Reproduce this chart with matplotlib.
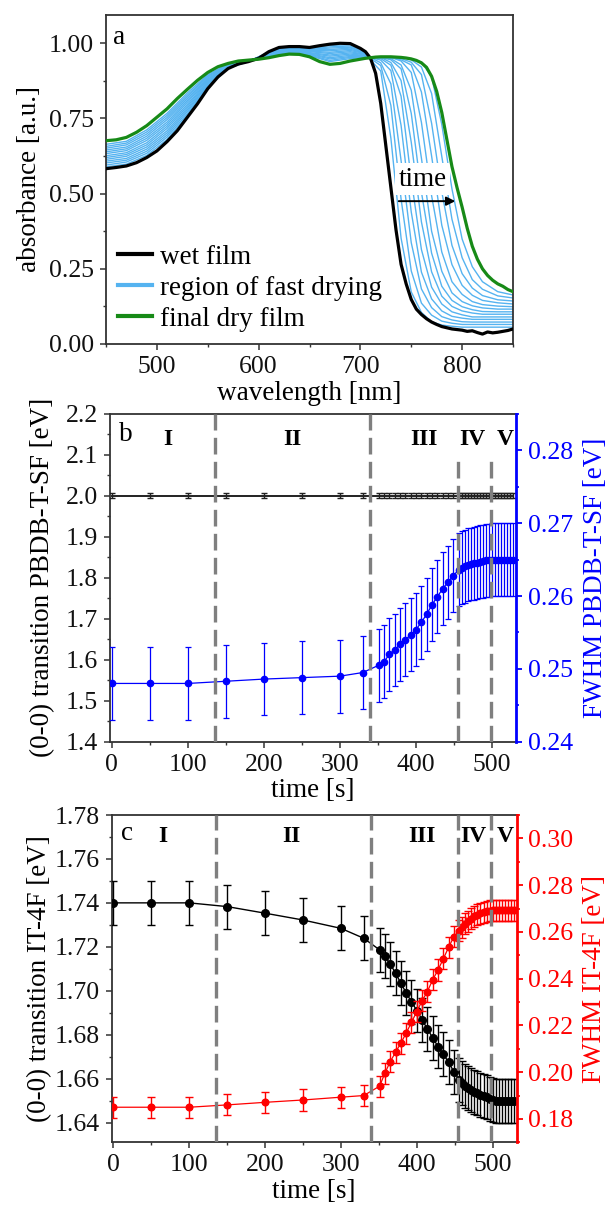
import matplotlib
matplotlib.use("Agg")
import matplotlib.pyplot as plt
from matplotlib.lines import Line2D
from matplotlib.ticker import MultipleLocator
from matplotlib.transforms import blended_transform_factory

plt.rcParams['font.family'] = ['Liberation Serif', 'DejaVu Serif']

# ---------------- (a) absorbance spectra during drying ----------------
wavelength = [450, 460, 470, 480, 490, 500, 510, 520, 530, 540, 550, 560, 570,
              580, 590, 600, 610, 620, 630, 640, 650, 660, 670, 680, 690, 700,
              705, 710, 715, 720, 725, 730, 735, 740, 745, 750, 755, 760, 765,
              770, 775, 780, 785, 790, 795, 800, 805, 810, 815, 820, 825, 830,
              835, 840, 845, 850]
abs_wet = [.583, .587, .592, .603, .620, .642, .673, .709, .754, .799, .849, .888,
           .916, .931, .939, .950, .972, .986, .989, .989, .986, .992, .997, 1.000,
           .999, .983, .972, .950, .900, .800, .660, .520, .380, .265, .200, .148,
           .116, .098, .084, .073, .065, .058, .054, .050, .048, .046, .042, .044,
           .038, .033, .040, .037, .039, .042, .045, .050]
abs_dry = [.676, .679, .687, .704, .726, .754, .782, .816, .847, .877, .903, .922,
           .933, .941, .944, .947, .952, .959, .964, .963, .955, .939, .930, .933,
           .941, .947, .950, .952, .954, .955, .955, .955, .954, .953, .951, .948,
           .943, .935, .920, .890, .840, .770, .680, .590, .520, .455, .385, .325,
           .282, .250, .228, .212, .200, .192, .181, .174]

# intermediate spectra recorded in the fast-drying window
wavelength_drying = [450, 470, 490, 510, 530, 550, 570, 590, 610, 630, 650, 670,
                     690, 700, 710, 720, 730, 740, 750, 760, 770, 780, 790, 800,
                     810, 820, 835, 850]
drying_01 = [.589, .598, .627, .680, .760, .853, .917, .939, .971, .987, .984, .993, .995, .981,
             .944, .908, .684, .352, .173, .105, .074, .063, .059, .056, .056, .056, .056, .056]
drying_02 = [.595, .605, .634, .688, .766, .856, .918, .940, .969, .986, .982, .988, .991, .978,
             .949, .926, .793, .482, .243, .136, .096, .076, .069, .065, .065, .065, .065, .065]
drying_03 = [.602, .611, .641, .695, .773, .860, .919, .940, .968, .984, .980, .984, .987, .976,
             .953, .935, .865, .610, .337, .183, .121, .091, .080, .074, .073, .073, .073, .073]
drying_04 = [.608, .617, .648, .702, .779, .863, .921, .940, .967, .982, .978, .979, .984, .973,
             .953, .944, .909, .727, .439, .239, .150, .110, .092, .086, .082, .082, .082, .082]
drying_05 = [.614, .624, .655, .709, .785, .867, .922, .941, .965, .981, .976, .975, .980, .971,
             .953, .949, .927, .824, .547, .314, .189, .133, .107, .097, .090, .090, .090, .090]
drying_06 = [.620, .630, .662, .717, .791, .871, .923, .941, .964, .979, .974, .970, .976, .969,
             .953, .953, .936, .876, .671, .406, .240, .159, .125, .110, .103, .099, .099, .099]
drying_07 = [.626, .636, .669, .724, .797, .874, .924, .941, .963, .977, .972, .966, .972, .966,
             .953, .953, .945, .915, .767, .505, .302, .192, .145, .124, .114, .108, .107, .107]
drying_08 = [.633, .643, .677, .731, .804, .878, .925, .942, .961, .976, .969, .961, .968, .964,
             .953, .953, .949, .928, .844, .618, .375, .242, .170, .141, .127, .120, .116, .116]
drying_09 = [.639, .649, .684, .738, .810, .881, .926, .942, .960, .974, .967, .957, .964, .961,
             .953, .953, .953, .941, .903, .737, .493, .306, .207, .165, .141, .131, .126, .124]
drying_10 = [.645, .655, .691, .746, .816, .885, .927, .942, .959, .972, .965, .952, .960, .959,
             .953, .953, .953, .945, .928, .838, .625, .395, .264, .195, .162, .145, .137, .133]
drying_11 = [.651, .662, .698, .753, .822, .889, .928, .943, .957, .971, .963, .948, .956, .957,
             .953, .953, .953, .949, .937, .896, .734, .506, .328, .234, .186, .161, .147, .143]
drying_12 = [.657, .668, .705, .760, .828, .892, .930, .943, .956, .969, .961, .943, .953, .954,
             .953, .953, .953, .953, .945, .921, .833, .624, .415, .287, .214, .182, .160, .153]
drying_13 = [.664, .674, .712, .767, .835, .896, .931, .943, .955, .967, .959, .939, .949, .952,
             .953, .953, .953, .953, .949, .937, .889, .730, .516, .349, .257, .207, .174, .163]
drying_spectra = [drying_01, drying_02, drying_03, drying_04, drying_05, drying_06, drying_07,
                  drying_08, drying_09, drying_10, drying_11, drying_12, drying_13]

# ---------------- (b), (c) fitted parameters versus time ----------------
time_s = [0, 50, 100, 150, 200, 250, 300, 330,
          351, 358, 365, 372, 379, 386, 393, 400, 407, 414, 421, 428, 435, 442, 449, 456,
          460, 464, 468, 472, 476, 480, 484, 488, 492, 496, 500, 504, 508, 512, 516, 520,
          524, 528]
trans_pbdb = [2.0] * len(time_s)
trans_pbdb_err = 0.006
fwhm_pbdb = [.2480, .2480, .2480, .2483, .2486, .2488, .2490, .2495,
             .2505, .2510, .2520, .2526, .2534, .2540, .2547, .2554, .2564, .2575, .2588,
             .2599, .2610, .2619, .2628, .2636,
             .2639, .2641, .2643, .2644, .2645, .2646, .2647, .2648, .2649, .2649, .2650,
             .2650, .2650, .2650, .2650, .2650, .2650, .2650]
fwhm_pbdb_err = 0.005
trans_it4f = [1.7400, 1.7400, 1.7400, 1.7383, 1.7353, 1.7322, 1.7284, 1.7239,
              1.7186, 1.7157, 1.7122, 1.7080, 1.7035, 1.6990, 1.6950, 1.6910, 1.6868,
              1.6826, 1.6786, 1.6746, 1.6710, 1.6675, 1.6630, 1.6595,
              1.6580, 1.6568, 1.6558, 1.6549, 1.6541, 1.6534, 1.6527, 1.6521, 1.6515,
              1.6509, 1.6504, 1.6500, 1.6500, 1.6500, 1.6500, 1.6500, 1.6500, 1.6500]
trans_it4f_err = 0.010
fwhm_it4f = [.1850, .1850, .1850, .1860, .1871, .1881, .1893, .1900,
             .1940, .1996, .2045, .2085, .2124, .2167, .2213, .2259, .2305, .2345, .2395,
             .2437, .2485, .2534, .2580, .2605,
             .2620, .2634, .2646, .2657, .2666, .2673, .2679, .2684, .2688, .2690, .2692,
             .2692, .2692, .2692, .2692, .2692, .2692, .2692]
fwhm_it4f_err = 0.0045

phase_bounds = [135, 339, 455, 498]
phase_names = ['I', 'II', 'III', 'IV', 'V']
phase_x_b = [74, 237, 410, 474, 517]
phase_x_c = [65, 235, 407, 474, 516]

# ---------------- styling ----------------
TICK_FS = 18.5
LABEL_FS = 19.5
PHASE_FS = 17
FRAME = '#333333'
WET_C = 'black'
DRY_C = '#178a17'
FAST_C = '#55b3f0'
GRAY = '#7f7f7f'

W, H = 609, 1207
fig = plt.figure(figsize=(W / 100, H / 100), dpi=100)


def px_axes(left, right, top, bottom):
    return fig.add_axes([left / W, 1 - bottom / H, (right - left) / W, (bottom - top) / H])


def style_main(ax):
    for s in ax.spines.values():
        s.set_linewidth(1.3)
        s.set_color(FRAME)
    ax.tick_params(which='both', direction='out', top=False, right=False,
                   labelsize=TICK_FS, color=FRAME, labelcolor='#111111')
    ax.tick_params(which='major', length=4.5, width=1.1, pad=4)
    ax.tick_params(which='minor', length=2.5, width=1.0)


def style_twin(ax2, col):
    for s in ['left', 'top', 'bottom']:
        ax2.spines[s].set_visible(False)
    ax2.spines['right'].set_color(col)
    ax2.spines['right'].set_linewidth(2.0)
    ax2.tick_params(axis='y', which='both', direction='out', colors=col, labelsize=TICK_FS)
    ax2.tick_params(axis='y', which='major', length=4.5, width=1.3, pad=4)
    ax2.tick_params(axis='y', which='minor', length=2.5, width=1.2)


# ---- panel a ----
axA = px_axes(106, 513, 14.7, 344)
style_main(axA)
for spec in drying_spectra:
    axA.plot(wavelength_drying, spec, color=FAST_C, lw=1.0, zorder=2)
axA.plot(wavelength, abs_wet, color=WET_C, lw=2.3, zorder=5)
axA.plot(wavelength, abs_dry, color=DRY_C, lw=2.3, zorder=5)
axA.set_xlim(450, 850)
axA.set_ylim(0, 1.095)
axA.xaxis.set_major_locator(MultipleLocator(100))
axA.xaxis.set_minor_locator(MultipleLocator(50))
axA.yaxis.set_major_locator(MultipleLocator(0.25))
axA.yaxis.set_minor_locator(MultipleLocator(0.125))
axA.set_xticks([500, 600, 700, 800])
axA.set_xlabel('wavelength [nm]', fontsize=LABEL_FS, labelpad=2)
axA.set_ylabel('absorbance [a.u.]', fontsize=LABEL_FS, labelpad=5)
axA.text(0.017, 0.93, 'a', transform=axA.transAxes, fontsize=LABEL_FS, va='center', ha='left')
axA.annotate('', xy=(796, 0.475), xytext=(735, 0.475),
             arrowprops=dict(arrowstyle='-|>', color='black', lw=1.4, mutation_scale=13),
             zorder=6)
axA.text(761, 0.548, 'time', ha='center', va='center', fontsize=LABEL_FS, zorder=4,
         bbox=dict(facecolor='white', edgecolor='none', pad=2.5))
handles = [Line2D([], [], color=WET_C, lw=3.0),
           Line2D([], [], color=FAST_C, lw=3.0),
           Line2D([], [], color=DRY_C, lw=3.0)]
axA.legend(handles, ['wet film', 'region of fast drying', 'final dry film'],
           loc='lower left', bbox_to_anchor=(0, 0), frameon=False, fontsize=LABEL_FS,
           handlelength=1.25, handletextpad=0.3, labelspacing=0.22,
           borderaxespad=0.25, borderpad=0.2)

# ---- panel b ----
axB = px_axes(110, 516, 414, 741.7)
style_main(axB)
axB.spines['right'].set_visible(False)
axB.errorbar(time_s, trans_pbdb, yerr=trans_pbdb_err, color='#222222', lw=1.4,
             elinewidth=1.0, capsize=2.2, capthick=1.0, zorder=3)
axB.set_xlim(-2.5, 531.5)
axB.set_ylim(1.4, 2.2)
axB.xaxis.set_major_locator(MultipleLocator(100))
axB.xaxis.set_minor_locator(MultipleLocator(50))
axB.yaxis.set_major_locator(MultipleLocator(0.1))
axB.yaxis.set_minor_locator(MultipleLocator(0.05))
axB.set_xlabel('time [s]', fontsize=LABEL_FS, labelpad=2)
axB.set_ylabel('(0-0) transition PBDB-T-SF [eV]', fontsize=LABEL_FS, labelpad=8)

axB2 = axB.twinx()
style_twin(axB2, 'blue')
axB2.errorbar(time_s, fwhm_pbdb, yerr=fwhm_pbdb_err, color='blue', lw=0.9, marker='o',
              ms=4.5, elinewidth=0.9, capsize=2.2, capthick=0.9, zorder=3)
axB2.set_ylim(0.24, 0.285)
axB2.yaxis.set_major_locator(MultipleLocator(0.01))
axB2.yaxis.set_minor_locator(MultipleLocator(0.005))
axB2.set_ylabel('FWHM PBDB-T-SF [eV]', fontsize=LABEL_FS, color='blue', labelpad=7)
b_tops = [1.0, 1.0, 0.87, 0.87]
for xb, top in zip(phase_bounds, b_tops):
    axB2.axvline(xb, ymax=top, color=GRAY, lw=2.4, ls=(0, (5, 2.2)), zorder=6)
trB = blended_transform_factory(axB2.transData, axB2.transAxes)
for name, xp in zip(phase_names, phase_x_b):
    axB2.text(xp, 0.921, name, transform=trB, ha='center', va='center',
              fontsize=PHASE_FS, fontweight='bold', zorder=7)
axB2.text(0.021, 0.936, 'b', transform=axB2.transAxes, fontsize=LABEL_FS,
          ha='left', va='center', zorder=7)

# ---- panel c ----
axC = px_axes(111.5, 516.5, 815, 1142.3)
style_main(axC)
axC.spines['right'].set_visible(False)
axC.errorbar(time_s, trans_it4f, yerr=trans_it4f_err, color='black', lw=1.0, marker='o',
             ms=5.5, elinewidth=1.0, capsize=2.6, capthick=1.0, zorder=3)
axC.set_xlim(-2.5, 531.5)
axC.set_ylim(1.631, 1.78)
axC.xaxis.set_major_locator(MultipleLocator(100))
axC.xaxis.set_minor_locator(MultipleLocator(50))
axC.yaxis.set_major_locator(MultipleLocator(0.02))
axC.yaxis.set_minor_locator(MultipleLocator(0.01))
axC.set_xlabel('time [s]', fontsize=LABEL_FS, labelpad=2)
axC.set_ylabel('(0-0) transition IT-4F [eV]', fontsize=LABEL_FS, labelpad=2)

axC2 = axC.twinx()
style_twin(axC2, 'red')
axC2.errorbar(time_s, fwhm_it4f, yerr=fwhm_it4f_err, color='red', lw=0.9, marker='o',
              ms=4.8, elinewidth=1.0, capsize=2.6, capthick=1.0, zorder=3)
axC2.set_ylim(0.17, 0.31)
axC2.yaxis.set_major_locator(MultipleLocator(0.02))
axC2.yaxis.set_minor_locator(MultipleLocator(0.01))
axC2.set_ylabel('FWHM IT-4F [eV]', fontsize=LABEL_FS, color='red', labelpad=6)
for xb in phase_bounds:
    axC2.axvline(xb, color=GRAY, lw=2.4, ls=(0, (5, 2.2)), zorder=6)
trC = blended_transform_factory(axC2.transData, axC2.transAxes)
for name, xp in zip(phase_names, phase_x_c):
    axC2.text(xp, 0.934, name, transform=trC, ha='center', va='center',
              fontsize=PHASE_FS, fontweight='bold', zorder=7)
axC2.text(0.023, 0.945, 'c', transform=axC2.transAxes, fontsize=LABEL_FS,
          ha='left', va='center', zorder=7)

fig.savefig('out.png', dpi=100)
